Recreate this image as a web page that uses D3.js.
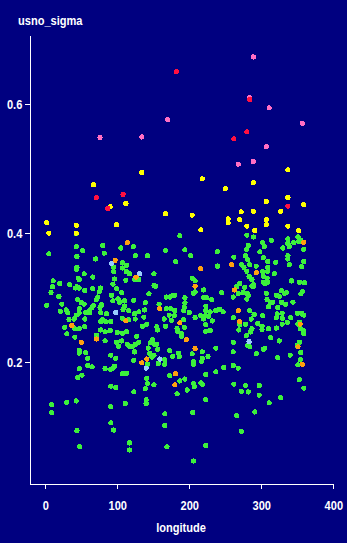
<!DOCTYPE html>
<html>
<head>
<meta charset="utf-8">
<script src="https://cdn.jsdelivr.net/npm/d3@7"></script>
<style>
html,body{margin:0;padding:0;background:#000080;}
svg{display:block;}
text{font-family:"Liberation Sans",Arial,sans-serif;font-weight:bold;fill:#fff;}
</style>
</head>
<body>
<div id="chart"></div>
<script>
// ---- data: [longitude, usno_sigma] per colour group ----
const yellowPts = [[337,0.498],[218,0.484],[289,0.478],[250,0.469],[337,0.455],[307,0.449],[359,0.444],[167,0.430],[204,0.428],[272,0.433],[289,0.434],[327,0.434],[254,0.422],[254,0.416],[270,0.421],[307,0.421],[307,0.413],[280,0.411],[291,0.404],[337,0.411],[352,0.404],[216,0.405],[67,0.475],[134,0.494],[90,0.441],[112,0.446],[99,0.413],[2,0.416],[5,0.400],[43,0.412],[43,0.400]];
const redPts = [[182,0.650],[284,0.607],[280,0.557],[262,0.546],[337,0.442],[71,0.455],[108,0.460],[87,0.438]];
const pinkPts = [[289,0.673],[284,0.610],[311,0.594],[170,0.576],[357,0.570],[307,0.534],[268,0.507],[289,0.511],[76,0.548],[134,0.549]];
const orangePts = [[114,0.385],[97,0.358],[126,0.332],[112,0.264],[159,0.283],[187,0.261],[196,0.235],[37,0.257],[50,0.231],[71,0.236],[134,0.199],[141,0.205],[181,0.182],[180,0.165],[359,0.386],[259,0.351],[216,0.345],[293,0.339],[208,0.318],[263,0.312],[268,0.280],[354,0.259],[351,0.224],[357,0.197],[270,0.263],[208,0.221]];
const bluePts = [[92,0.353],[131,0.337],[98,0.277],[159,0.205],[140,0.191],[283,0.232]];
const greenPts = [[43,0.399],[187,0.396],[80,0.381],[122,0.379],[43,0.379],[105,0.377],[167,0.373],[194,0.374],[52,0.373],[82,0.369],[5,0.368],[44,0.364],[125,0.365],[142,0.365],[70,0.360],[181,0.356],[107,0.354],[107,0.346],[113,0.350],[95,0.347],[43,0.344],[44,0.347],[95,0.340],[113,0.340],[117,0.337],[54,0.337],[151,0.337],[124,0.328],[130,0.328],[66,0.332],[11,0.326],[20,0.322],[34,0.320],[47,0.328],[46,0.330],[96,0.329],[112,0.327],[94,0.321],[10,0.317],[44,0.317],[47,0.315],[42,0.315],[55,0.311],[66,0.314],[77,0.315],[75,0.309],[99,0.314],[106,0.308],[144,0.306],[151,0.319],[153,0.318],[168,0.301],[173,0.301],[177,0.304],[180,0.304],[194,0.300],[8,0.308],[19,0.302],[45,0.297],[50,0.292],[54,0.290],[73,0.301],[71,0.297],[67,0.288],[65,0.285],[78,0.289],[92,0.304],[94,0.295],[101,0.298],[103,0.293],[110,0.295],[110,0.287],[116,0.280],[108,0.282],[123,0.296],[139,0.292],[158,0.290],[168,0.283],[174,0.283],[180,0.280],[194,0.292],[193,0.285],[192,0.280],[200,0.277],[2,0.288],[23,0.290],[21,0.279],[29,0.281],[31,0.277],[47,0.283],[47,0.276],[43,0.273],[40,0.267],[33,0.266],[56,0.277],[62,0.281],[62,0.277],[55,0.267],[76,0.285],[77,0.277],[80,0.266],[77,0.263],[84,0.263],[91,0.263],[85,0.275],[107,0.268],[116,0.266],[124,0.275],[125,0.267],[130,0.278],[138,0.281],[137,0.270],[141,0.259],[135,0.256],[165,0.267],[172,0.273],[175,0.265],[179,0.272],[192,0.266],[193,0.254],[155,0.255],[156,0.250],[167,0.256],[183,0.252],[184,0.247],[189,0.245],[189,0.240],[27,0.254],[30,0.244],[41,0.252],[47,0.252],[55,0.255],[41,0.239],[71,0.242],[83,0.233],[77,0.250],[83,0.247],[90,0.249],[100,0.246],[107,0.245],[106,0.233],[113,0.247],[99,0.231],[102,0.225],[114,0.228],[116,0.225],[127,0.240],[125,0.228],[121,0.224],[124,0.216],[123,0.203],[130,0.231],[146,0.230],[149,0.235],[152,0.227],[143,0.222],[145,0.214],[148,0.208],[155,0.228],[156,0.220],[151,0.211],[157,0.198],[166,0.204],[166,0.197],[173,0.218],[177,0.209],[185,0.214],[186,0.209],[142,0.197],[141,0.192],[173,0.179],[187,0.171],[194,0.174],[197,0.157],[183,0.151],[151,0.165],[142,0.167],[141,0.175],[139,0.159],[140,0.142],[140,0.136],[166,0.120],[166,0.102],[169,0.069],[123,0.154],[110,0.182],[111,0.136],[117,0.075],[117,0.064],[95,0.095],[91,0.106],[91,0.131],[91,0.163],[98,0.161],[94,0.191],[91,0.189],[83,0.190],[96,0.194],[91,0.211],[98,0.206],[59,0.206],[59,0.195],[65,0.193],[47,0.190],[56,0.215],[47,0.218],[47,0.214],[45,0.176],[51,0.180],[9,0.134],[9,0.122],[30,0.138],[43,0.140],[44,0.094],[48,0.069],[107,0.182],[113,0.183],
[280,0.397],[289,0.394],[314,0.389],[302,0.385],[304,0.379],[282,0.381],[280,0.375],[337,0.391],[337,0.384],[339,0.379],[330,0.377],[345,0.385],[351,0.394],[352,0.387],[355,0.389],[359,0.375],[239,0.371],[298,0.371],[278,0.365],[281,0.359],[262,0.363],[202,0.365],[303,0.362],[337,0.365],[337,0.360],[359,0.356],[356,0.348],[309,0.356],[320,0.355],[339,0.351],[239,0.349],[273,0.351],[276,0.347],[280,0.341],[284,0.351],[293,0.349],[302,0.340],[309,0.347],[309,0.341],[318,0.337],[283,0.333],[287,0.328],[289,0.320],[287,0.318],[303,0.333],[308,0.330],[303,0.324],[305,0.322],[309,0.324],[204,0.330],[208,0.326],[208,0.309],[206,0.307],[270,0.322],[266,0.317],[268,0.306],[277,0.316],[275,0.308],[282,0.303],[289,0.317],[245,0.308],[261,0.301],[280,0.298],[281,0.306],[342,0.326],[353,0.324],[360,0.323],[357,0.309],[355,0.306],[328,0.311],[335,0.308],[332,0.307],[321,0.304],[325,0.302],[307,0.307],[308,0.297],[310,0.286],[313,0.292],[316,0.293],[323,0.285],[328,0.293],[334,0.290],[344,0.293],[220,0.312],[220,0.300],[224,0.300],[231,0.297],[223,0.287],[223,0.280],[229,0.278],[237,0.280],[242,0.282],[247,0.278],[284,0.280],[261,0.269],[290,0.274],[302,0.272],[322,0.275],[329,0.276],[321,0.269],[329,0.268],[329,0.259],[336,0.262],[341,0.269],[350,0.276],[356,0.276],[359,0.273],[353,0.262],[351,0.259],[354,0.252],[359,0.249],[359,0.244],[353,0.231],[350,0.226],[355,0.215],[354,0.204],[351,0.196],[353,0.173],[359,0.160],[208,0.269],[216,0.272],[223,0.272],[220,0.267],[227,0.271],[232,0.264],[223,0.258],[223,0.248],[229,0.249],[270,0.258],[269,0.250],[278,0.259],[286,0.267],[287,0.252],[285,0.247],[295,0.260],[301,0.256],[301,0.251],[279,0.241],[284,0.224],[281,0.226],[310,0.252],[313,0.238],[321,0.253],[325,0.233],[323,0.207],[303,0.220],[305,0.222],[293,0.213],[261,0.231],[261,0.216],[237,0.222],[226,0.209],[218,0.216],[218,0.206],[217,0.201],[206,0.201],[206,0.197],[204,0.213],[248,0.192],[261,0.195],[268,0.191],[237,0.185],[223,0.181],[216,0.168],[218,0.166],[206,0.167],[207,0.162],[262,0.166],[278,0.164],[297,0.164],[272,0.155],[282,0.154],[297,0.149],[311,0.137],[327,0.145],[340,0.211],[223,0.142],[205,0.122],[266,0.117],[291,0.123],[272,0.093],[223,0.071],[206,0.047]];

const xTicks = [0, 100, 200, 300, 400];
const yTicks = [0.2, 0.4, 0.6];
const xTitle = "longitude";
const yTitle = "usno_sigma";

const groups = [
  {pts: greenPts,  color: "#3cf03c"},
  {pts: bluePts,   color: "#99ccff"},
  {pts: orangePts, color: "#ffa010"},
  {pts: yellowPts, color: "#ffff00"},
  {pts: pinkPts,   color: "#ff6ec4"},
  {pts: redPts,    color: "#ff1040"}
];

// ---- layout ----
const W = 347, H = 543;
const SX = 0.82; // horizontal condensing of the narrow bold face
const svg = d3.select("#chart").append("svg").attr("width", W).attr("height", H)
  .style("background", "#000080");

const x = d3.scaleLinear().domain([-20.8, 400]).range([30.3, 333.3]);
const y = d3.scaleLinear().domain([0.0114, 0.707]).range([484, 35]);

const xAxis = d3.axisBottom(x).tickValues(xTicks).tickSize(5).tickSizeOuter(0).tickPadding(11)
  .tickFormat(d3.format("d"));
const yAxis = d3.axisLeft(y).tickValues(yTicks).tickSize(5).tickSizeOuter(0).tickPadding(3)
  .tickFormat(d3.format(".1f"));

const gx = svg.append("g").attr("transform", "translate(0,484)").call(xAxis);
const gy = svg.append("g").attr("transform", "translate(30.3,0)").call(yAxis);
[gx, gy].forEach(g => {
  g.selectAll("path,line").attr("stroke", "#fff").attr("stroke-width", 1.2).attr("shape-rendering", "crispEdges");
  g.selectAll("text").attr("fill", "#fff").style("font-size", "13.5px")
    .style("font-family", "'Liberation Sans',Arial,sans-serif")
    .style("font-weight", "bold");
});
// condense tick labels horizontally around their anchor
gx.selectAll(".tick text").attr("transform", `scale(${SX},1)`);
gy.selectAll(".tick text").each(function() {
  const t = d3.select(this);
  const xx = +t.attr("x");
  t.attr("x", xx / SX).attr("transform", `scale(${SX},1)`);
});

svg.append("text").attr("text-anchor", "middle")
  .attr("transform", `translate(181,532) scale(${SX},1)`)
  .style("font-size", "13.5px").text(xTitle);
svg.append("text").attr("text-anchor", "start")
  .attr("transform", `translate(18,25) scale(${SX},1)`)
  .style("font-size", "13.5px").text(yTitle);

// ---- points ----
const plot = svg.append("g");
groups.forEach(gr => {
  plot.append("g").selectAll("circle").data(gr.pts).join("circle")
    .attr("cx", d => x(d[0]))
    .attr("cy", d => y(d[1]))
    .attr("r", 2.6)
    .attr("fill", gr.color)
    .attr("shape-rendering", "crispEdges");
});
</script>
</body>
</html>
